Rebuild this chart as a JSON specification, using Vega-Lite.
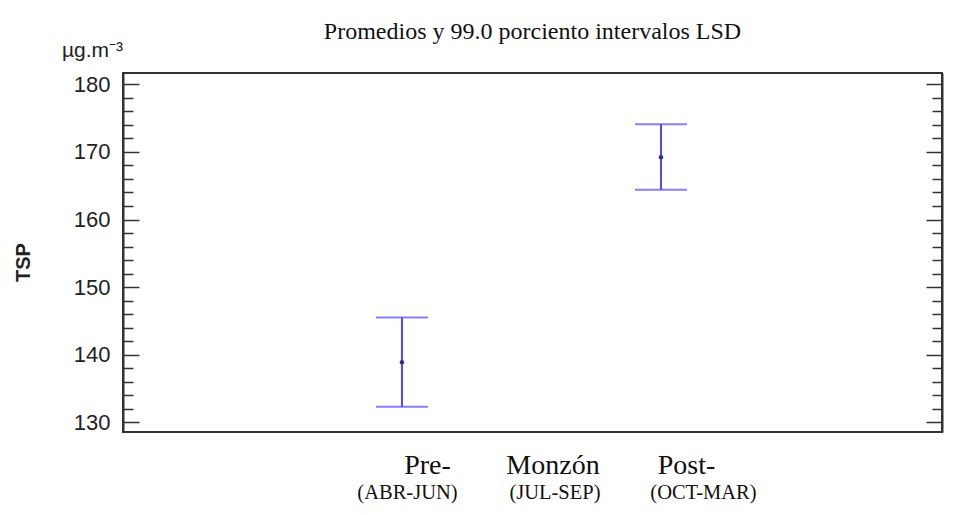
{
  "$schema": "https://vega.github.io/schema/vega-lite/v6.json",
  "autosize": {"type": "none"},
  "padding": {"left": 123, "top": 73, "right": 24, "bottom": 83},
  "width": 819,
  "height": 359,
  "background": "white",
  "title": {
    "text": "Promedios y 99.0 porciento intervalos LSD",
    "font": "Liberation Serif",
    "fontSize": 24,
    "fontWeight": "normal",
    "color": "#111",
    "anchor": "middle",
    "baseline": "alphabetic",
    "offset": -24
  },
  "data": {
    "values": [
      {"orden": 1, "periodo": "Pre-", "rango": "(ABR-JUN)", "media": 138.9, "inferior": 132.3, "superior": 145.5},
      {"orden": 2, "periodo": "Monzón", "rango": "(JUL-SEP)", "media": null, "inferior": null, "superior": null},
      {"orden": 3, "periodo": "Post-", "rango": "(OCT-MAR)", "media": 169.2, "inferior": 164.4, "superior": 174.1}
    ]
  },
  "resolve": {"axis": {"x": "independent", "y": "independent"}},
  "layer": [
    {
      "mark": {"type": "rule", "color": "#5248f5", "strokeWidth": 2},
      "encoding": {
        "x": {
          "field": "orden",
          "type": "quantitative",
          "scale": {"domain": [-1.154, 5.17], "nice": false, "zero": false},
          "axis": {
            "orient": "bottom",
            "values": [1, 2, 3],
            "labelExpr": "datum.value === 1 ? 'Pre-' : datum.value === 2 ? 'Monzón' : 'Post-'",
            "title": null,
            "grid": false,
            "domain": false,
            "ticks": false,
            "labelAngle": 0,
            "labelFont": "Liberation Serif",
            "labelFontSize": 28,
            "labelColor": "#111",
            "labelBaseline": "alphabetic",
            "labelPadding": 41,
            "labelOffset": {"condition": {"test": "datum.value === 2", "value": 21}, "value": 25}
          }
        },
        "y": {
          "field": "inferior",
          "type": "quantitative",
          "scale": {"domain": [128.57, 181.67], "nice": false, "zero": false},
          "axis": {
            "orient": "left",
            "values": [130, 140, 150, 160, 170, 180],
            "grid": false,
            "title": "TSP",
            "titleFont": "Liberation Sans",
            "titleFontSize": 20,
            "titleFontWeight": "bold",
            "titleColor": "#222",
            "titleAngle": -90,
            "titleAlign": "center",
            "titleBaseline": "middle",
            "titleX": -100,
            "titleY": 189,
            "labelFont": "Liberation Sans",
            "labelFontSize": 22,
            "labelColor": "#222",
            "labelPadding": 29,
            "tickSize": -16,
            "tickColor": "#333",
            "tickWidth": 1.5,
            "domainColor": "#333",
            "domainWidth": 2
          }
        },
        "y2": {"field": "superior"}
      }
    },
    {
      "mark": {"type": "tick", "orient": "horizontal", "color": "#5248f5", "size": 52, "thickness": 2},
      "encoding": {
        "x": {
          "field": "orden",
          "type": "quantitative",
          "axis": {
            "orient": "bottom",
            "values": [1, 2, 3],
            "labelExpr": "datum.value === 1 ? '(ABR-JUN)' : datum.value === 2 ? '(JUL-SEP)' : '(OCT-MAR)'",
            "title": null,
            "grid": false,
            "domain": false,
            "ticks": false,
            "labelAngle": 0,
            "labelFont": "Liberation Serif",
            "labelFontSize": 20.5,
            "labelColor": "#111",
            "labelBaseline": "alphabetic",
            "labelPadding": 66,
            "labelOffset": {
              "condition": [
                {"test": "datum.value === 1", "value": 5},
                {"test": "datum.value === 3", "value": 42}
              ],
              "value": 23
            }
          }
        },
        "y": {
          "field": "inferior",
          "type": "quantitative",
          "axis": {
            "orient": "right",
            "values": [130, 140, 150, 160, 170, 180],
            "labels": false,
            "grid": false,
            "title": "µg.m⁻³",
            "titleFont": "Liberation Sans",
            "titleFontSize": 21,
            "titleFontWeight": "normal",
            "titleColor": "#222",
            "titleAngle": 0,
            "titleAlign": "center",
            "titleBaseline": "alphabetic",
            "titleX": -850,
            "titleY": -17,
            "tickSize": -16,
            "tickColor": "#333",
            "tickWidth": 1.5,
            "domainColor": "#333",
            "domainWidth": 2
          }
        }
      }
    },
    {
      "mark": {"type": "tick", "orient": "horizontal", "color": "#5248f5", "size": 52, "thickness": 2},
      "encoding": {
        "x": {"field": "orden", "type": "quantitative", "axis": null},
        "y": {
          "field": "superior",
          "type": "quantitative",
          "axis": {
            "orient": "left",
            "values": [132, 134, 136, 138, 142, 144, 146, 148, 152, 154, 156, 158, 162, 164, 166, 168, 172, 174, 176, 178],
            "labels": false,
            "domain": false,
            "grid": false,
            "title": null,
            "tickSize": -10,
            "tickColor": "#333",
            "tickWidth": 1.5
          }
        }
      }
    },
    {
      "mark": {"type": "point", "filled": true, "color": "#30308f", "size": 20, "opacity": 1},
      "encoding": {
        "x": {"field": "orden", "type": "quantitative", "axis": null},
        "y": {
          "field": "media",
          "type": "quantitative",
          "axis": {
            "orient": "right",
            "values": [132, 134, 136, 138, 142, 144, 146, 148, 152, 154, 156, 158, 162, 164, 166, 168, 172, 174, 176, 178],
            "labels": false,
            "domain": false,
            "grid": false,
            "title": null,
            "tickSize": -10,
            "tickColor": "#333",
            "tickWidth": 1.5
          }
        }
      }
    }
  ],
  "config": {
    "view": {"stroke": "#333", "strokeWidth": 2}
  }
}
